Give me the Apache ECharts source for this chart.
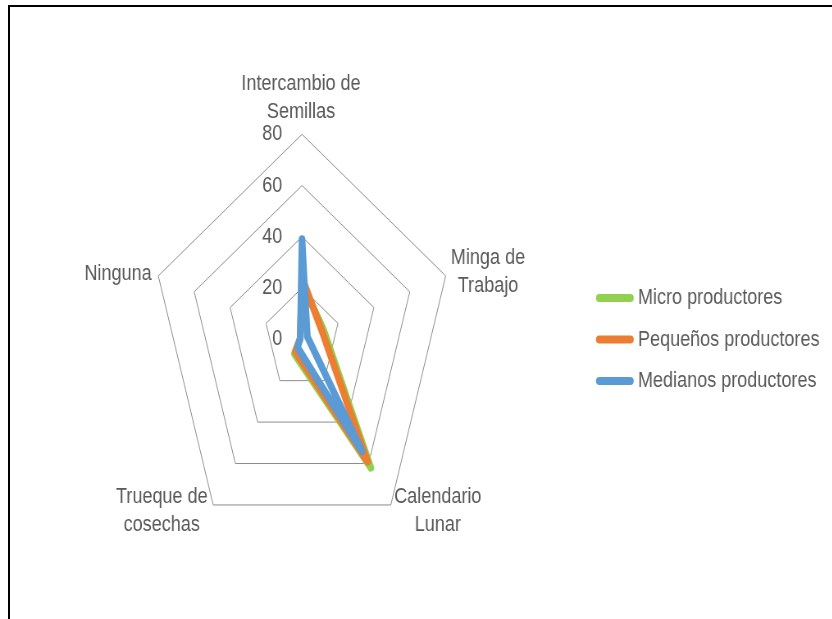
<!DOCTYPE html>
<html>
<head>
<meta charset="utf-8">
<script src="https://cdn.jsdelivr.net/npm/echarts@6/dist/echarts.min.js"></script>
<style>
  html, body { margin: 0; padding: 0; background: #fff; overflow: hidden; }
  /* the whole drawing is set in a horizontally compressed frame */
  #chart { position: absolute; left: 0; top: 0; width: 1015px; height: 619px;
           transform: scaleX(0.82); transform-origin: 0 0; }
  #frame { position: absolute; left: 8px; top: 5px; width: 900px; height: 700px;
           border-left: 2px solid #000; border-top: 2px solid #000; }
</style>
</head>
<body>
<div id="frame"></div>
<div id="chart"></div>
<script>
// ---- data ----
const indicators = ['Intercambio de\nSemillas', 'Minga de\nTrabajo', 'Calendario\nLunar', 'Trueque de\ncosechas', 'Ninguna'];
const seriesNames = ['Micro productores', 'Pequeños productores', 'Medianos productores'];
const microProductores    = [22, 12, 62, 7, 1];
const pequenosProductores = [24, 11, 59, 6, 1];
const medianosProductores = [39, 3, 54, 4, 1];
const ringValues = [20, 40, 60, 80];
const axisMax = 80;
const tickStep = 20;

// ---- layout ----
const S = 0.82;                   // horizontal compression applied by CSS
const CX = 302 / S, CY = 339.2;    // centre of the web
const RX = 151.1 / S, RY = 204.9;  // half extents of the outer ring
const FONT = '"Liberation Sans", Arial, sans-serif';
const TEXT = '#595959';
const colors = ['#92D050', '#ED7D31', '#5B9BD5'];
// spoke name boxes: [centre x, top y] in page pixels
const namePos = [[301, 69.6], [488, 244.1], [437.8, 483], [161.8, 483], [118, 260]];

const n = indicators.length;
function polygon(vals) {
  const pts = vals.map((v, k) => {
    const a = 2 * Math.PI * k / n;
    return [v * Math.sin(a), v * Math.cos(a)];
  });
  pts.push(pts[0]);
  return pts;
}

const chart = echarts.init(document.getElementById('chart'), null, { renderer: 'canvas' });

const ringSeries = ringValues.map(r => ({
  type: 'line', data: polygon(indicators.map(() => r)), symbol: 'none', silent: true,
  lineStyle: { color: '#8c8c8c', width: 1 }, z: 1, animation: false
}));

const dataSeries = [microProductores, pequenosProductores, medianosProductores].map((vals, i) => ({
  name: seriesNames[i], type: 'line', data: polygon(vals), symbol: 'none',
  color: colors[i],
  lineStyle: { color: colors[i], width: 8, join: 'round', cap: 'round' },
  z: 2 + i, animation: false
}));

chart.setOption({
  animation: false,
  grid: { left: CX - RX, top: CY - RY, width: 2 * RX, height: 2 * RY, containLabel: false, outerBoundsMode: 'none' },
  xAxis: { type: 'value', min: -axisMax, max: axisMax, show: false },
  yAxis: {
    type: 'value', min: -axisMax, max: axisMax, interval: tickStep, position: 'left', offset: -RX,
    axisLine: { show: false }, axisTick: { show: false }, splitLine: { show: false },
    axisLabel: { formatter: v => (v < 0 ? '' : String(v)), color: TEXT, fontSize: 22, fontFamily: FONT,
                 margin: 24, padding: [4, 0, 0, 0] }
  },
  legend: {
    data: seriesNames, orient: 'vertical', left: 596 / S, top: 287, padding: 0,
    itemWidth: 38 / S, itemHeight: 8, itemGap: 19.5,
    icon: 'path://M4,0 L42,0 A4,4 0 0 1 42,8 L4,8 A4,4 0 0 1 4,0 Z',
    textStyle: { color: TEXT, fontSize: 22, fontFamily: FONT }
  },
  graphic: indicators.map((t, k) => ({
    type: 'text', silent: true,
    style: {
      text: t, x: namePos[k][0] / S, y: namePos[k][1],
      fill: TEXT, font: '22px ' + FONT, lineHeight: 28,
      align: 'center', verticalAlign: 'top', textAlign: 'center', textVerticalAlign: 'top'
    }
  })),
  series: ringSeries.concat(dataSeries)
});
</script>
</body>
</html>
